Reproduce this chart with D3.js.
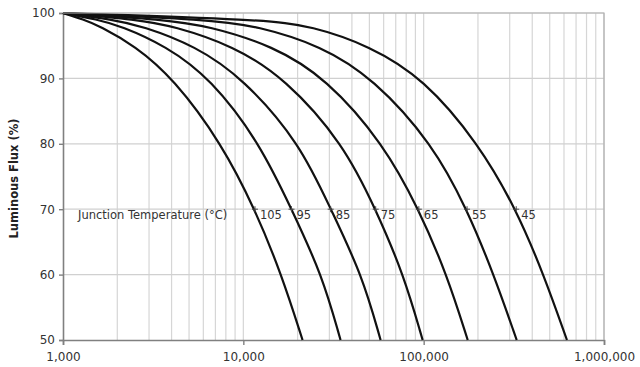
<!DOCTYPE html>
<html>
<head>
<meta charset="utf-8">
<script src="https://cdn.jsdelivr.net/npm/d3@7"></script>
<style>
  body { margin: 0; background: #fff; }
  text { font-family: "DejaVu Sans", Verdana, sans-serif; }
</style>
</head>
<body>
<div id="chart"></div>
<script>
// junction temperatures, one curve each
var temps = [105, 95, 85, 75, 65, 55, 45];
// flux levels (%) the hours below were read at
var fluxLevels = [100, 99, 98, 95, 90, 80, 70, 60, 50];
// hours to reach each flux level
var hours105 = [1000, 1300, 1600, 2500, 4100, 7600, 11600, 16300, 21300];
var hours95  = [1000, 1550, 2100, 3700, 6600, 12400, 18500, 27300, 34600];
var hours85  = [1000, 1900, 2750, 5400, 10000, 20700, 30500, 45500, 57700];
var hours75  = [1000, 2600, 4100, 8800, 17100, 35900, 54200, 77500, 98700];
var hours65  = [1000, 3700, 6400, 14600, 28900, 59900, 94000, 134500, 175500];
var hours55  = [1000, 6500, 12000, 27000, 52700, 112000, 174000, 245000, 328000];
var hours45  = [1000, 13000, 24000, 50000, 100000, 202000, 326000, 463000, 623000];
var xTicks = [1000, 10000, 100000, 1000000];
var yTicks = [50, 60, 70, 80, 90, 100];

var allHours = [hours105, hours95, hours85, hours75, hours65, hours55, hours45];

var W = 640, H = 367;
var margin = {left: 63, right: 36, top: 13, bottom: 27};

var svg = d3.select("#chart").append("svg")
    .attr("width", W)
    .attr("height", H);

var x = d3.scaleLog().domain([1000, 1000000]).range([margin.left, W - margin.right]);
var y = d3.scaleLinear().domain([50, 100]).range([H - margin.bottom, margin.top]);

    //minor vertical grid, every 1..9 of each decade
var gridX = [];
for (var d = 1000; d < 1000000; d *= 10) {
    for (var k = 2; k <= 10; k++) gridX.push(d * k);
}
svg.append("g").selectAll("line")
    .data(gridX)
    .enter().append("line")
    .attr("x1", function (d) { return x(d); })
    .attr("x2", function (d) { return x(d); })
    .attr("y1", y(100))
    .attr("y2", y(50))
    .style("stroke", "#d6d6d6")
    .style("stroke-width", 1.2);

svg.append("g").selectAll("line")
    .data(yTicks.slice(1))
    .enter().append("line")
    .attr("x1", x(1000))
    .attr("x2", x(1000000))
    .attr("y1", function (d) { return y(d); })
    .attr("y2", function (d) { return y(d); })
    .style("stroke", "#d0d0d0")
    .style("stroke-width", 1.2);

    //axes
var yAxis = d3.axisLeft(y).tickValues(yTicks).tickSize(4).tickPadding(4)
    .tickFormat(d3.format("d"));
var xAxis = d3.axisBottom(x).tickValues(xTicks).tickSize(5).tickPadding(7)
    .tickFormat(d3.format(",d"));

var gy = svg.append("g").attr("transform", "translate(" + margin.left + ",0)").call(yAxis);
var gx = svg.append("g").attr("transform", "translate(0," + y(50) + ")").call(xAxis);
[gy, gx].forEach(function (g) {
    g.select(".domain").style("stroke", "#808080").style("stroke-width", 1.6);
    g.selectAll(".tick line").style("stroke", "#808080").style("stroke-width", 1.4);
    g.selectAll(".tick text").style("font-size", "12px").style("fill", "#333")
        .style("font-family", "'DejaVu Sans', Verdana, sans-serif");
});
gx.selectAll(".tick text").attr("dy", "0.71em");

svg.append("text")
    .attr("transform", "translate(18," + (y(75) + 2) + ") rotate(-90)")
    .attr("text-anchor", "middle")
    .style("font-size", "11.5px")
    .style("font-weight", "bold")
    .style("fill", "#222")
    .text("Luminous Flux (%)");

    //curves, smoothed through the read points
var line = d3.line()
    .x(function (d) { return x(d[0]); })
    .y(function (d) { return y(d[1]); })
    .curve(d3.curveBasis);

svg.append("g").selectAll("path")
    .data(allHours)
    .enter().append("path")
    .attr("d", function (h) {
        return line(h.map(function (v, i) { return [v, fluxLevels[i]]; }));
    })
    .style("fill", "none")
    .style("stroke", "#111")
    .style("stroke-width", 2.2);

    //small + marks and labels at the 70% crossing
var i70 = fluxLevels.indexOf(70);
var marks = svg.append("g").selectAll("g")
    .data(allHours)
    .enter().append("g")
    .attr("transform", function (h) { return "translate(" + x(h[i70]) + "," + y(70) + ")"; });
marks.append("path")
    .attr("d", "M-3,0H3M0,-3V3")
    .style("stroke", "#444")
    .style("stroke-width", 1);
marks.append("text")
    .attr("x", 5)
    .attr("y", 10)
    .style("font-size", "11.5px")
    .style("fill", "#333")
    .text(function (h, i) { return temps[i]; });

svg.append("text")
    .attr("x", 78)
    .attr("y", y(70) + 10)
    .style("font-size", "11.5px")
    .style("fill", "#333")
    .text("Junction Temperature (°C)");

    //frame top and right
svg.append("path")
    .attr("d", "M" + x(1000) + "," + y(100) + "H" + x(1000000) + "V" + y(50))
    .style("fill", "none")
    .style("stroke", "#b0b0b0")
    .style("stroke-width", 1.2);
</script>
</body>
</html>
